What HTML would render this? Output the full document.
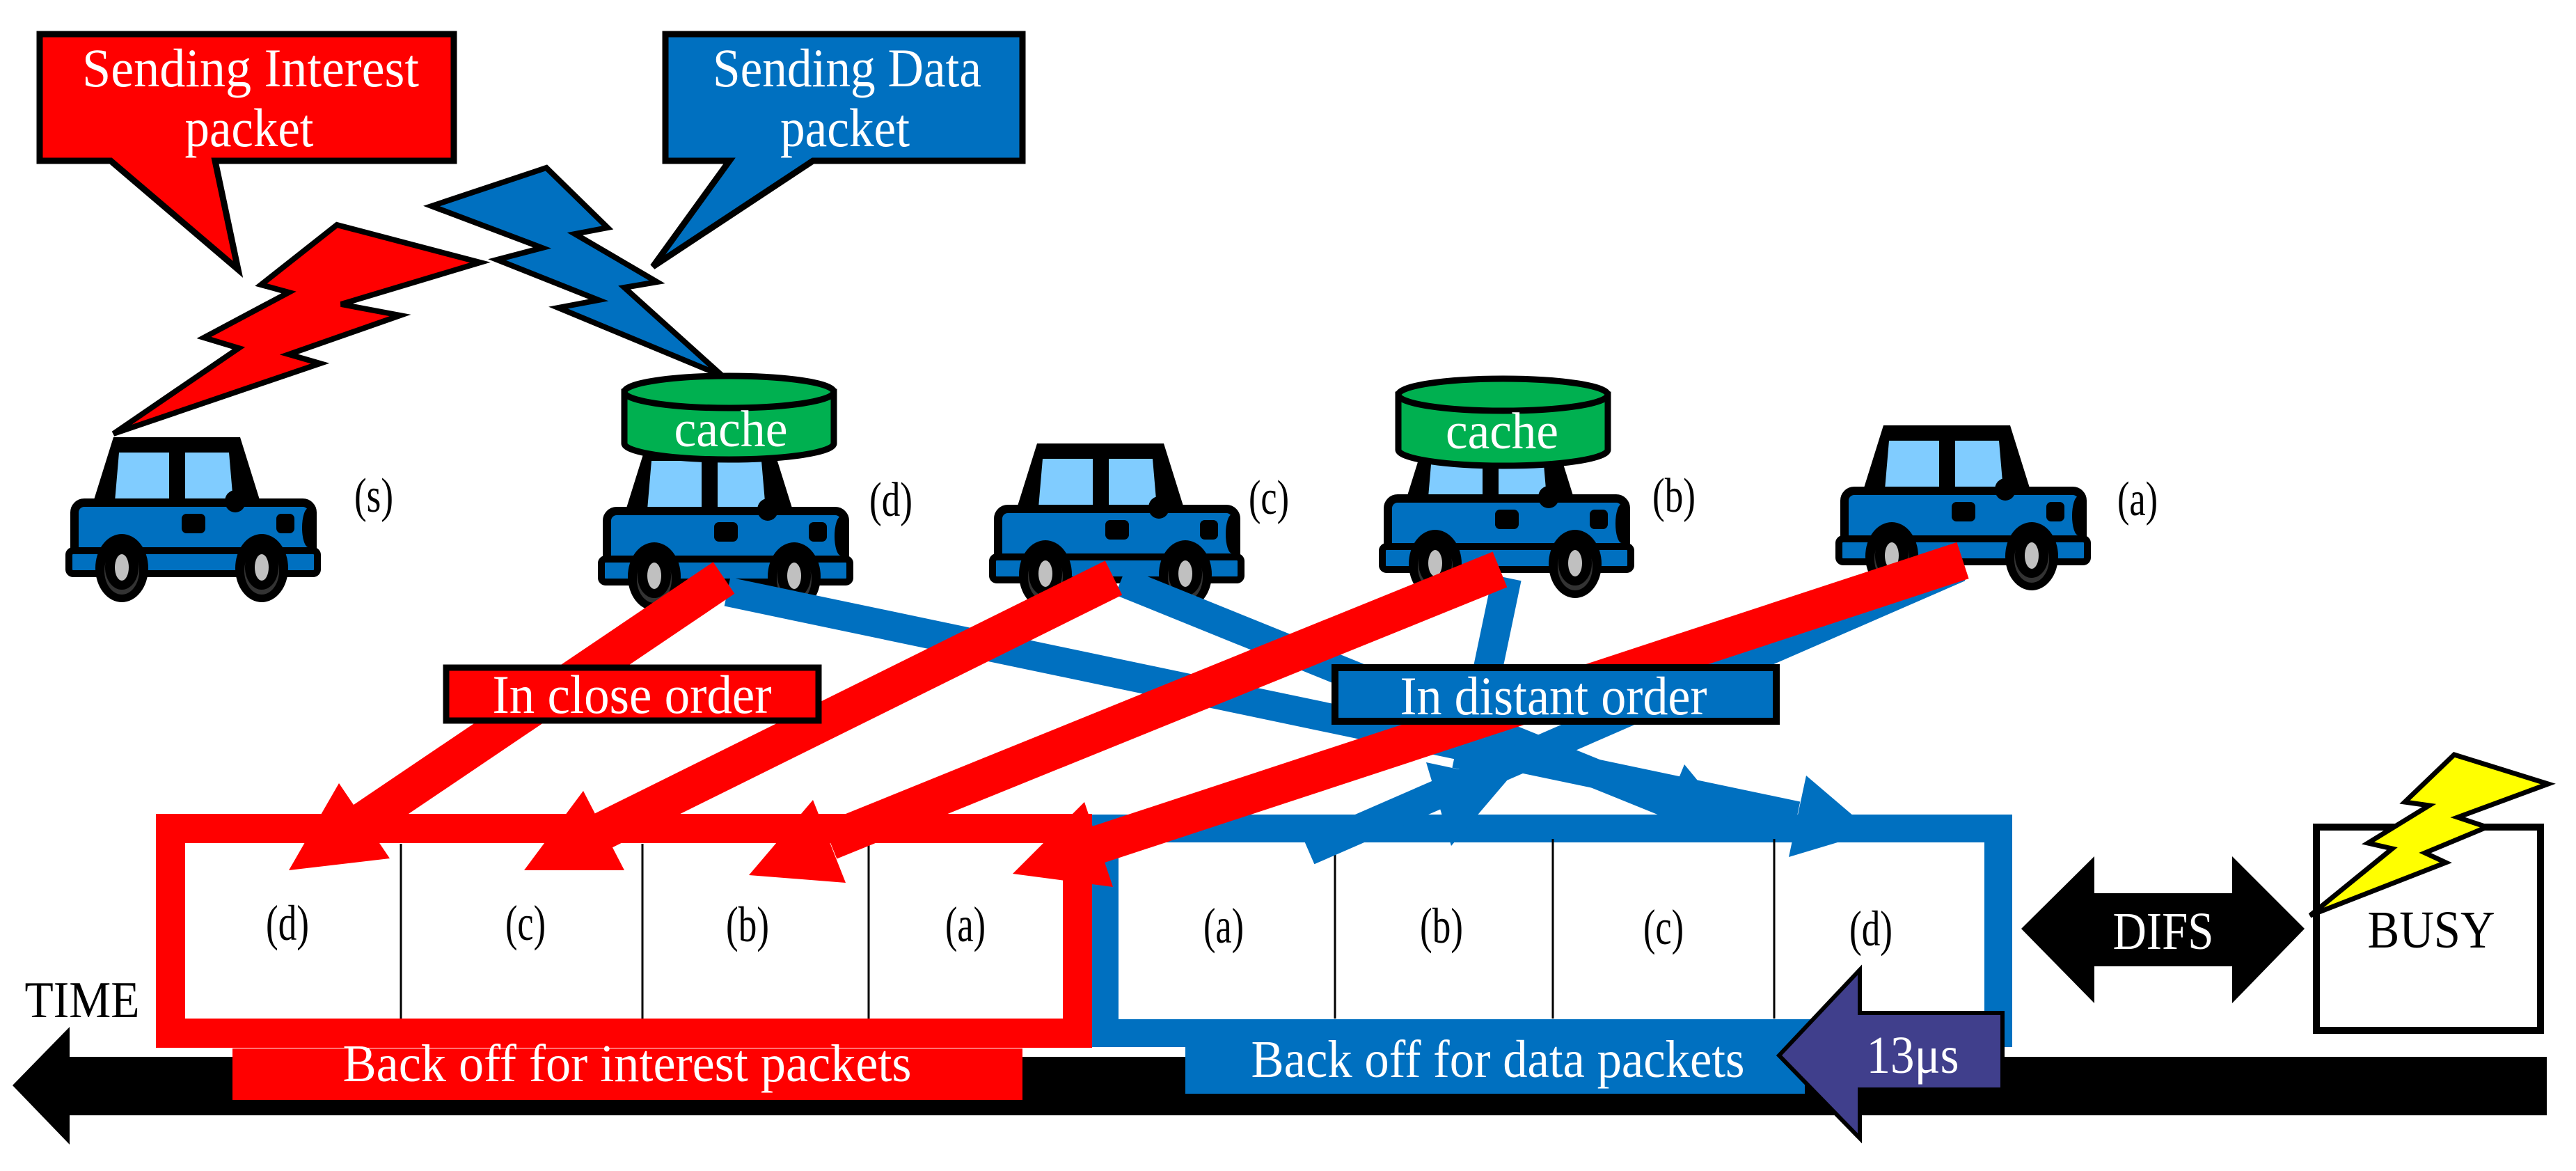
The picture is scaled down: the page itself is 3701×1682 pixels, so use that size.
<!DOCTYPE html>
<html><head><meta charset="utf-8"><style>
html,body{margin:0;padding:0;background:#fff;}
svg{display:block;}
text{font-family:"Liberation Serif",serif;}
</style></head><body>
<svg width="3701" height="1682" viewBox="0 0 3701 1682" xmlns="http://www.w3.org/2000/svg">
<defs>
<g id="car">
  <polygon points="68,0 250,0 280,96 38,96" fill="#000"/>
  <polygon points="76,22 148,22 148,92 70,92" fill="#80ccff"/>
  <polygon points="171,22 234,22 240,92 171,92" fill="#80ccff"/>
  <rect x="12" y="94" width="342" height="80" rx="14" fill="#0070c0" stroke="#000" stroke-width="12"/>
  <ellipse cx="243" cy="92" rx="15" ry="16" fill="#000"/>
  <rect x="166" y="110" width="34" height="28" rx="7" fill="#000"/>
  <rect x="302" y="110" width="26" height="28" rx="7" fill="#000"/>
  <ellipse cx="348" cy="130" rx="9" ry="28" fill="#000"/>
  <rect x="4" y="163" width="357" height="33" rx="6" fill="#0070c0" stroke="#000" stroke-width="10"/>
  <ellipse cx="80" cy="188" rx="38" ry="49" fill="#000"/>
  <ellipse cx="80" cy="192" rx="25" ry="34" fill="#333"/>
  <ellipse cx="80" cy="187" rx="24" ry="32" fill="#000"/>
  <ellipse cx="80" cy="187" rx="10" ry="19" fill="#c0c0c0"/>
  <ellipse cx="281" cy="188" rx="38" ry="49" fill="#000"/>
  <ellipse cx="281" cy="192" rx="25" ry="34" fill="#333"/>
  <ellipse cx="281" cy="187" rx="24" ry="32" fill="#000"/>
  <ellipse cx="281" cy="187" rx="10" ry="19" fill="#c0c0c0"/>
</g>
</defs>

<polygon points="57,49 652,49 652,231 309,231 342,387 159,231 57,231" fill="#ff0000" stroke="#000" stroke-width="9" stroke-linejoin="miter"/>
<text x="360" y="124" font-size="78" fill="#fff" text-anchor="middle" textLength="484" lengthAdjust="spacingAndGlyphs">Sending  Interest</text>
<text x="358" y="210" font-size="78" fill="#fff" text-anchor="middle" textLength="185" lengthAdjust="spacingAndGlyphs">packet</text>

<polygon points="956,49 1469,49 1469,231 1168,231 938,383 1048,231 956,231" fill="#0070c0" stroke="#000" stroke-width="9"/>
<text x="1217" y="124" font-size="78" fill="#fff" text-anchor="middle" textLength="386" lengthAdjust="spacingAndGlyphs">Sending Data</text>
<text x="1214" y="210" font-size="78" fill="#fff" text-anchor="middle" textLength="186" lengthAdjust="spacingAndGlyphs">packet</text>

<polygon points="484,323 690,377 490,437 575,453 415,509 460,522 163,623 343,500 293,485 415,420 375,409" fill="#ff0000" stroke="#000" stroke-width="8" stroke-linejoin="miter"/>
<polygon points="620,296 785,241 873,327 826,336 944,405 897,413 1038,540 802,442 860,431 714,373 779,356" fill="#0070c0" stroke="#000" stroke-width="8"/>

<use href="#car" x="95" y="628"/>
<use href="#car" x="860" y="640"/>
<use href="#car" x="1422" y="637"/>
<use href="#car" x="1982" y="622"/>
<use href="#car" x="2638" y="611"/>

<g stroke="#000" stroke-width="9" fill="#00b050">
<path d="M897,563 L897,637 A150.5,23 0 0 0 1198,637 L1198,563 Z"/>
<ellipse cx="1047.5" cy="563" rx="150.5" ry="23"/>
<path d="M2009,567 L2009,646 A150.5,23 0 0 0 2310,646 L2310,567 Z"/>
<ellipse cx="2159.5" cy="567" rx="150.5" ry="23"/>
</g>
<text x="1050" y="641" font-size="74" fill="#fff" text-anchor="middle" textLength="163" lengthAdjust="spacingAndGlyphs">cache</text>
<text x="2158" y="644" font-size="74" fill="#fff" text-anchor="middle" textLength="162" lengthAdjust="spacingAndGlyphs">cache</text>

<g font-size="70" text-anchor="middle" fill="#000">
<text x="537" y="735" textLength="56" lengthAdjust="spacingAndGlyphs">(s)</text>
<text x="1280" y="741" textLength="62" lengthAdjust="spacingAndGlyphs">(d)</text>
<text x="1823" y="738" textLength="58" lengthAdjust="spacingAndGlyphs">(c)</text>
<text x="2405" y="735" textLength="62" lengthAdjust="spacingAndGlyphs">(b)</text>
<text x="3071" y="740" textLength="58" lengthAdjust="spacingAndGlyphs">(a)</text>
</g>

<polygon points="18,1559 100,1475 100,1518 3659,1518 3659,1602 100,1602 100,1644" fill="#000"/>
<text x="118" y="1461" font-size="74" text-anchor="middle" textLength="165" lengthAdjust="spacingAndGlyphs">TIME</text>

<rect x="1587" y="1190" width="1284" height="294" fill="#fff" stroke="#0070c0" stroke-width="40"/>
<rect x="245" y="1190" width="1303" height="294" fill="#fff" stroke="#ff0000" stroke-width="42"/>
<g stroke="#000" stroke-width="3">
<line x1="576" y1="1212" x2="576" y2="1463"/>
<line x1="923" y1="1212" x2="923" y2="1463"/>
<line x1="1248" y1="1212" x2="1248" y2="1463"/>
<line x1="1918" y1="1205" x2="1918" y2="1463"/>
<line x1="2231" y1="1205" x2="2231" y2="1463"/>
<line x1="2549" y1="1205" x2="2549" y2="1463"/>
</g>
<g font-size="72" text-anchor="middle" fill="#000">
<text x="413" y="1350" textLength="62" lengthAdjust="spacingAndGlyphs">(d)</text>
<text x="755" y="1350" textLength="58" lengthAdjust="spacingAndGlyphs">(c)</text>
<text x="1074" y="1352" textLength="62" lengthAdjust="spacingAndGlyphs">(b)</text>
<text x="1387" y="1352" textLength="58" lengthAdjust="spacingAndGlyphs">(a)</text>
<text x="1758" y="1354" textLength="58" lengthAdjust="spacingAndGlyphs">(a)</text>
<text x="2071" y="1354" textLength="62" lengthAdjust="spacingAndGlyphs">(b)</text>
<text x="2390" y="1356" textLength="58" lengthAdjust="spacingAndGlyphs">(c)</text>
<text x="2688" y="1358" textLength="62" lengthAdjust="spacingAndGlyphs">(d)</text>
</g>

<g stroke="#0070c0" stroke-width="42" fill="none">
<line x1="1045" y1="850" x2="2582" y2="1172"/>
<line x1="1610" y1="835" x2="2398" y2="1154"/>
<line x1="2165" y1="830" x2="2107" y2="1107"/>
<line x1="2815" y1="815" x2="1880" y2="1222"/>
</g>
<g fill="#0070c0">
<polygon points="2690,1195 2570,1231 2595,1114"/>
<polygon points="2500,1195 2375,1209 2420,1098"/>
<polygon points="2085,1215 2049,1095 2166,1120"/>
</g>

<g stroke="#ff0000" stroke-width="55" fill="none">
<line x1="1040" y1="830" x2="523" y2="1179"/>
<line x1="1600" y1="830" x2="867" y2="1193"/>
<line x1="2155" y1="818" x2="1192" y2="1208"/>
<line x1="2820" y1="805" x2="1578" y2="1213"/>
</g>
<g fill="#ff0000">
<polygon points="415,1250 487,1125 560,1233"/>
<polygon points="753,1250 838,1136 897,1250"/>
<polygon points="1076,1257 1168,1149 1215,1268"/>
<polygon points="1455,1255 1558,1152 1599,1274"/>
</g>

<rect x="641" y="959" width="535" height="76" fill="#ff0000" stroke="#000" stroke-width="9"/>
<text x="908" y="1024" font-size="78" fill="#fff" text-anchor="middle" textLength="401" lengthAdjust="spacingAndGlyphs">In close order</text>
<rect x="1918" y="959" width="634" height="77" fill="#0070c0" stroke="#000" stroke-width="10"/>
<text x="2232" y="1026" font-size="78" fill="#fff" text-anchor="middle" textLength="441" lengthAdjust="spacingAndGlyphs">In distant order</text>

<rect x="334" y="1506" width="1135" height="74" fill="#ff0000"/>
<text x="901" y="1553" font-size="76" fill="#fff" text-anchor="middle" textLength="817" lengthAdjust="spacingAndGlyphs">Back off for interest packets</text>
<rect x="1703" y="1464" width="890" height="107" fill="#0070c0"/>
<text x="2152" y="1547" font-size="76" fill="#fff" text-anchor="middle" textLength="709" lengthAdjust="spacingAndGlyphs">Back off for data packets</text>

<polygon points="2556,1516 2672,1393 2672,1455 2877,1455 2877,1565 2672,1565 2672,1635" fill="#403f8c" stroke="#000" stroke-width="6"/>
<text x="2748" y="1541" font-size="76" fill="#fff" text-anchor="middle" textLength="133" lengthAdjust="spacingAndGlyphs">13μs</text>

<polygon points="2904,1334 3009,1230 3009,1283 3207,1283 3207,1230 3311,1334 3207,1441 3207,1388 3009,1388 3009,1441" fill="#000"/>
<text x="3108" y="1363" font-size="76" fill="#fff" text-anchor="middle" textLength="145" lengthAdjust="spacingAndGlyphs">DIFS</text>

<rect x="3328" y="1188" width="322" height="292" fill="#fff" stroke="#000" stroke-width="10"/>
<text x="3493" y="1361" font-size="76" fill="#000" text-anchor="middle" textLength="183" lengthAdjust="spacingAndGlyphs">BUSY</text>
<polygon points="3526,1084 3661,1126 3531,1174 3573,1188 3484,1225 3514,1239 3319,1315 3437,1219 3402,1211 3490,1157 3455,1152" fill="#ffff00" stroke="#000" stroke-width="7"/>
</svg>
</body></html>
